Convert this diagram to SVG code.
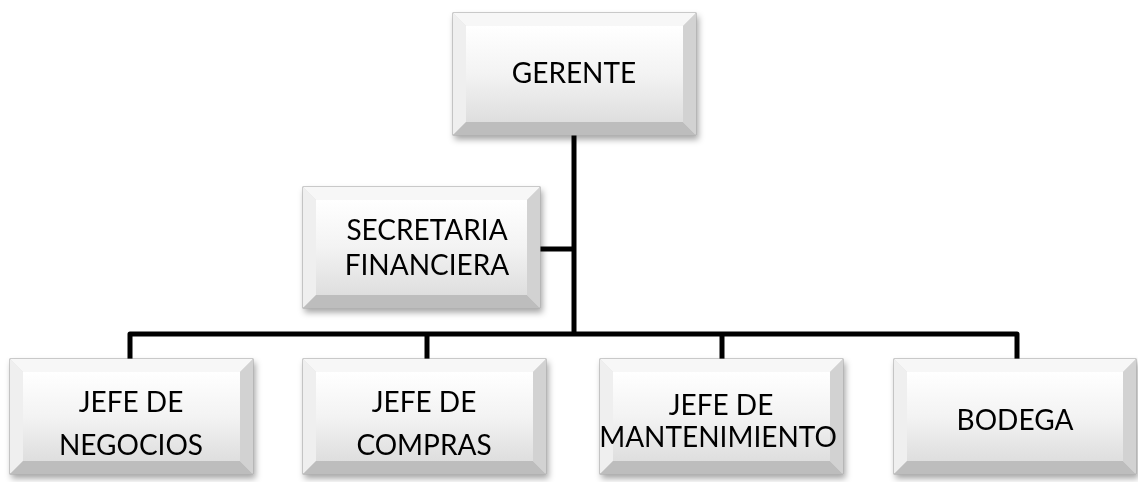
<svg xmlns="http://www.w3.org/2000/svg" width="1138" height="482" viewBox="0 0 1138 482">
<style>
.lbl{font-family:Lato,"Liberation Sans",Arial,sans-serif;font-size:28px;fill:#000;text-anchor:middle}
.conn{stroke:#000;stroke-width:5;fill:none;stroke-linejoin:round}
.outer{fill:#dcdcdc;stroke:#9a9a9a;stroke-width:1}
.bt{fill:#f7f7f7}.bl{fill:#efefef}.bb{fill:#bdbdbd}.br{fill:#d2d2d2}
.face{fill:url(#face)}
</style>
<defs>
<linearGradient id="face" x1="0" y1="0" x2="0" y2="1">
<stop offset="0" stop-color="#ffffff"/>
<stop offset="0.5" stop-color="#f3f3f3"/>
<stop offset="1" stop-color="#dedede"/>
</linearGradient>
<filter id="sh" x="-10%" y="-10%" width="120%" height="130%">
<feDropShadow dx="2" dy="4" stdDeviation="3" flood-color="#000" flood-opacity="0.35"/>
</filter>
</defs>
<g id="connectors">
<path class="conn" d="M574 135 V334"/>
<path class="conn" d="M540 249 H574"/>
<path class="conn" d="M130 359 V334 H1017 V359"/>
<path class="conn" d="M427 334 V359"/>
<path class="conn" d="M722 334 V359"/>
</g>
<g id="gerente" filter="url(#sh)">
<rect class="outer" x="453" y="13" width="243" height="122"/>
<polygon class="bt" points="453,13 696,13 683,26 466,26"/>
<polygon class="bl" points="453,13 466,26 466,122 453,135"/>
<polygon class="bb" points="453,135 466,122 683,122 696,135"/>
<polygon class="br" points="696,13 696,135 683,122 683,26"/>
<rect class="face" x="466" y="26" width="217" height="96"/>
<text class="lbl" x="574" y="83">GERENTE</text>
</g>
<g id="secretaria" filter="url(#sh)">
<rect class="outer" x="303" y="187" width="237" height="121"/>
<polygon class="bt" points="303,187 540,187 527,200 316,200"/>
<polygon class="bl" points="303,187 316,200 316,295 303,308"/>
<polygon class="bb" points="303,308 316,295 527,295 540,308"/>
<polygon class="br" points="540,187 540,308 527,295 527,200"/>
<rect class="face" x="316" y="200" width="211" height="95"/>
<text class="lbl" x="427" y="240">SECRETARIA</text>
<text class="lbl" x="427" y="275">FINANCIERA</text>
</g>
<g id="negocios" filter="url(#sh)">
<rect class="outer" x="10" y="359" width="243" height="115"/>
<polygon class="bt" points="10,359 253,359 240,372 23,372"/>
<polygon class="bl" points="10,359 23,372 23,461 10,474"/>
<polygon class="bb" points="10,474 23,461 240,461 253,474"/>
<polygon class="br" points="253,359 253,474 240,461 240,372"/>
<rect class="face" x="23" y="372" width="217" height="89"/>
<text class="lbl" x="131" y="412">JEFE DE</text>
<text class="lbl" x="131" y="455">NEGOCIOS</text>
</g>
<g id="compras" filter="url(#sh)">
<rect class="outer" x="303" y="359" width="243" height="115"/>
<polygon class="bt" points="303,359 546,359 533,372 316,372"/>
<polygon class="bl" points="303,359 316,372 316,461 303,474"/>
<polygon class="bb" points="303,474 316,461 533,461 546,474"/>
<polygon class="br" points="546,359 546,474 533,461 533,372"/>
<rect class="face" x="316" y="372" width="217" height="89"/>
<text class="lbl" x="424" y="412">JEFE DE</text>
<text class="lbl" x="424" y="455">COMPRAS</text>
</g>
<g id="mantenimiento" filter="url(#sh)">
<rect class="outer" x="600" y="359" width="243" height="115"/>
<polygon class="bt" points="600,359 843,359 830,372 613,372"/>
<polygon class="bl" points="600,359 613,372 613,461 600,474"/>
<polygon class="bb" points="600,474 613,461 830,461 843,474"/>
<polygon class="br" points="843,359 843,474 830,461 830,372"/>
<rect class="face" x="613" y="372" width="217" height="89"/>
<text class="lbl" x="721" y="415">JEFE DE</text>
<text class="lbl" x="718" y="447">MANTENIMIENTO</text>
</g>
<g id="bodega" filter="url(#sh)">
<rect class="outer" x="894" y="359" width="242" height="115"/>
<polygon class="bt" points="894,359 1136,359 1123,372 907,372"/>
<polygon class="bl" points="894,359 907,372 907,461 894,474"/>
<polygon class="bb" points="894,474 907,461 1123,461 1136,474"/>
<polygon class="br" points="1136,359 1136,474 1123,461 1123,372"/>
<rect class="face" x="907" y="372" width="216" height="89"/>
<text class="lbl" x="1015" y="430">BODEGA</text>
</g>
</svg>
